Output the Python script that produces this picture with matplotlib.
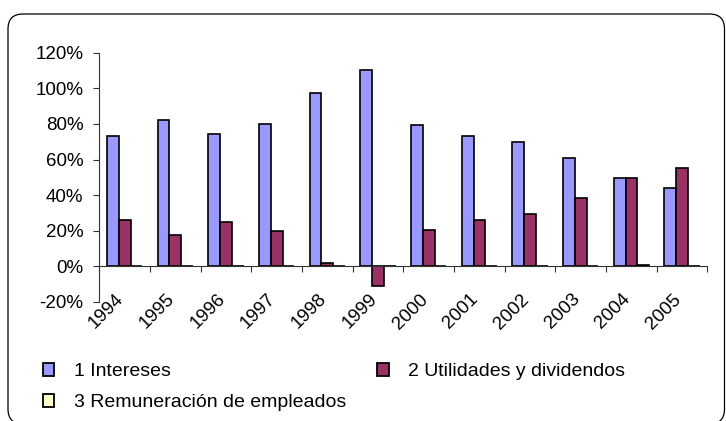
import matplotlib
matplotlib.use("Agg")
import matplotlib.pyplot as plt
import numpy as np
from matplotlib.patches import FancyBboxPatch, Patch
from matplotlib.ticker import PercentFormatter
from matplotlib.transforms import IdentityTransform

plt.rcParams['font.family'] = ['Liberation Sans', 'DejaVu Sans']
plt.rcParams['axes.unicode_minus'] = False

years = ['1994', '1995', '1996', '1997', '1998', '1999',
         '2000', '2001', '2002', '2003', '2004', '2005']
intereses = [73.5, 82.3, 74.4, 79.7, 97.3, 110.4, 79.3, 73.1, 69.6, 60.9, 49.9, 44.2]
utilidades = [26.2, 17.6, 24.9, 19.9, 2.0, -11.2, 20.2, 26.2, 29.6, 38.6, 49.9, 55.5]
remuneracion = [0.0, 0.0, 0.3, 0.3, 0.3, 0.3, 0.3, 0.3, 0.3, 0.3, 0.8, 0.3]

labels = ['1 Intereses', '2 Utilidades y dividendos', '3 Remuneración de empleados']
colors = ['#9999FF', '#993366', '#FFFFCC']

fig = plt.figure(figsize=(7.26, 4.21), dpi=100)
ax = fig.add_axes([0.1368, 0.2827, 0.8377, 0.5921])

x = np.arange(len(years))
w = 0.233
series = [intereses, utilidades, remuneracion]
for k, vals in enumerate(series):
    ax.bar(x + (k - 1) * w, vals, width=w, color=colors[k],
           edgecolor='black', linewidth=1.2, label=labels[k])

ax.set_xlim(-0.5, len(years) - 0.5)
ax.set_ylim(-20, 120)
ax.set_yticks(range(-20, 121, 20))
ax.yaxis.set_major_formatter(PercentFormatter(100, decimals=0))

for s in ['top', 'right']:
    ax.spines[s].set_visible(False)
ax.spines['bottom'].set_position(('data', 0))
for s in ['left', 'bottom']:
    ax.spines[s].set_color('#333333')
    ax.spines[s].set_linewidth(0.8)

ax.set_xticks(np.arange(len(years) + 1) - 0.5)
ax.set_xticklabels([])
ax.tick_params(axis='x', direction='out', length=4.5, width=0.8, color='#333333')
ax.tick_params(axis='y', direction='out', length=4.3, width=0.8, color='#333333',
               labelsize=13.5, pad=7)

for i, yr in enumerate(years):
    ax.text(i - 0.07, -17, yr, rotation=45, rotation_mode='anchor',
            ha='right', va='center', fontsize=13.5)

handles = [Patch(facecolor=c, edgecolor='black', linewidth=1.3) for c in colors]
order = [0, 2, 1]
fig.legend([handles[i] for i in order], [labels[i] for i in order],
           ncol=2, loc='upper left', bbox_to_anchor=(0.0588, 0.138),
           frameon=False, fontsize=14, handlelength=0.6, handleheight=0.65,
           handletextpad=1.0, labelspacing=0.7, columnspacing=1.6,
           borderaxespad=0, borderpad=0)

border = FancyBboxPatch((8, -3), 716.5, 410, boxstyle='round,pad=0,rounding_size=15',
                        transform=IdentityTransform(), facecolor='none',
                        edgecolor='black', linewidth=0.9)
fig.add_artist(border)

fig.savefig('out.png', dpi=100)
